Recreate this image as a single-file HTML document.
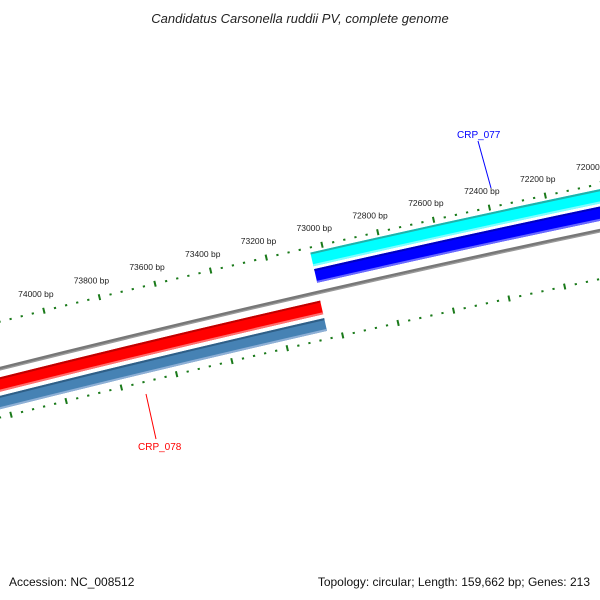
<!DOCTYPE html>
<html><head><meta charset="utf-8"><style>
html,body{margin:0;padding:0;background:#fff;}
svg{display:block;font-family:"Liberation Sans","DejaVu Sans",sans-serif;}
</style></head><body>
<svg id="map" width="600" height="600" viewBox="0 0 600 600">
<text x="300" y="23" text-anchor="middle" font-size="13" font-style="italic" fill="#222">Candidatus Carsonella ruddii PV, complete genome</text>
<g id="rings"></g>
<text x="9" y="586" font-size="12" fill="#111">Accession: NC_008512</text>
<text x="590" y="586" font-size="12" fill="#111" text-anchor="end">Topology: circular; Length: 159,662 bp; Genes: 213</text>
</svg>
<script>
const featureNames = ["CRP_077","CRP_078"];
const featureStarts = [71500, 73050];
const featureEnds = [73046, 75000];
const featureStrand = [1, -1];
const tickMajors = [71800,72000,72200,72400,72600,72800,73000,73200,73400,73600,73800,74000,74200,74400,74600];
const tickLabels = ["71800 bp","72000 bp","72200 bp","72400 bp","72600 bp","72800 bp","73000 bp","73200 bp","73400 bp","73600 bp","73800 bp","74000 bp","74200 bp","74400 bp","74600 bp"];

const NS="http://www.w3.org/2000/svg";
const g=document.getElementById('rings');
const R0=16000, a0=-12.95*Math.PI/180, ppb=0.285, bpRef=73116;
const cx=300-R0*Math.sin(a0), cy=297+R0*Math.cos(a0);
function ang(bp){return a0+(bpRef-bp)*ppb/R0;}
function pt(bp,r){const a=ang(bp);return [cx+r*Math.sin(a),cy-r*Math.cos(a)];}
function arc(bp1,bp2,r,w,color,name){
  const p1=pt(bp2,r),p2=pt(bp1,r);
  const p=document.createElementNS(NS,'path');
  p.setAttribute('d',`M${p1[0]},${p1[1]} A${r},${r} 0 0 1 ${p2[0]},${p2[1]}`);
  p.setAttribute('fill','none');p.setAttribute('stroke',color);p.setAttribute('stroke-width',w);
  
  
  g.appendChild(p);return p;
}
// backbone
arc(71000,75500,R0-0.8,1.6,'#999','backbone-light');
arc(71000,75500,R0+1,2.4,'#777','backbone');
// features
function band(i,rIn,rOut,c1,c2,c3){
  const s=featureStarts[i],e=featureEnds[i],w=rOut-rIn;
  arc(s,e,(rIn+rOut)/2,w,c2,featureNames[i]+'-feature');
  arc(s,e,rOut-1,2,c1,featureNames[i]+'-edge-top');
  arc(s,e,rIn+1,2,c3,featureNames[i]+'-edge-bottom');
}
// forward strand: cyan (outer) + blue
band(0,R0+27,R0+41,'#20b2aa','#00ffff','#7fffff');
band(0,R0+10,R0+24,'#0000c0','#0000ff','#6a6aff');
// reverse strand: red + steelblue
band(1,R0-22,R0-8,'#c00000','#ff0000','#ff7070');
band(1,R0-39,R0-26,'#2f5f87','#4682b4','#8fb0d6');
// ticks
function tickRing(rc,withLabels,prefix){
  for(let bp=71800;bp<=74600;bp+=40){
    const major=(bp%200===0);
    const len=major?6:2, w=major?2:2.2;
    const a=pt(bp,rc-len/2),b=pt(bp,rc+len/2);
    const l=document.createElementNS(NS,'line');
    l.setAttribute('x1',a[0]);l.setAttribute('y1',a[1]);l.setAttribute('x2',b[0]);l.setAttribute('y2',b[1]);
    l.setAttribute('stroke','#1a7a1a');l.setAttribute('stroke-width',w);
    
    
    g.appendChild(l);
  }
  if(withLabels){
    tickMajors.forEach((bp,i)=>{
      const p=pt(bp,rc+17);
      const t=document.createElementNS(NS,'text');
      t.setAttribute('x',p[0]-4);t.setAttribute('y',p[1]+3);
      t.setAttribute('text-anchor','middle');t.setAttribute('font-size','8.5');t.setAttribute('fill','#222');
      t.textContent=tickLabels[i];
      
      
      g.appendChild(t);
    });
  }
}
tickRing(R0+46,true,'outer-');
tickRing(R0-47,false,'inner-');
// feature labels
function flabel(text,x,y,lx1,ly1,lx2,ly2,color,name){
  const l=document.createElementNS(NS,'line');
  l.setAttribute('x1',lx1);l.setAttribute('y1',ly1);l.setAttribute('x2',lx2);l.setAttribute('y2',ly2);
  l.setAttribute('stroke',color);l.setAttribute('stroke-width',1);
  
  
  g.appendChild(l);
  const t=document.createElementNS(NS,'text');
  t.setAttribute('x',x);t.setAttribute('y',y);t.setAttribute('font-size','10');t.setAttribute('fill',color);
  t.textContent=text;
  
  
  g.appendChild(t);
}
flabel(featureNames[0],457,138,478,141,491,188,'#0000ff','crp077-label');
flabel(featureNames[1],138,450,146,394,156,439,'#ff0000','crp078-label');
</script>
</body></html>
